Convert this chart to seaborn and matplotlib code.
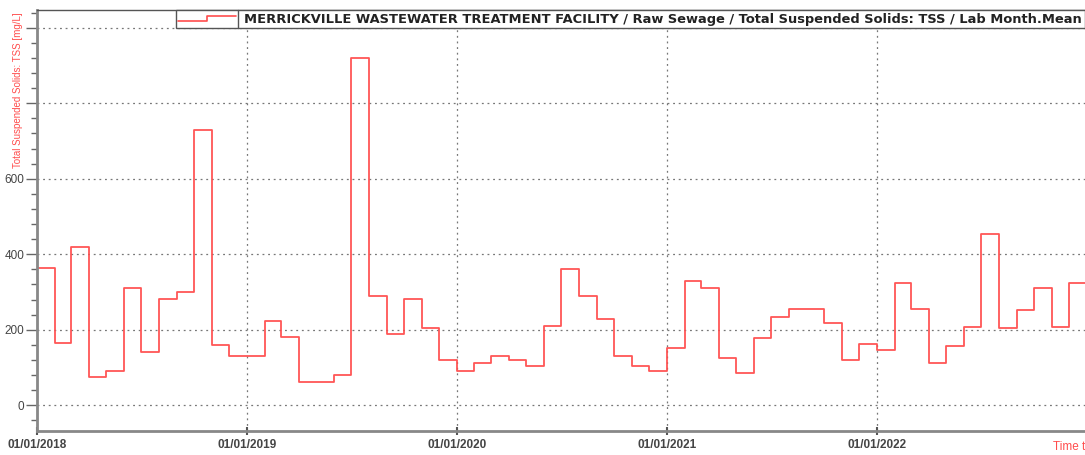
import matplotlib
matplotlib.use("Agg")
import matplotlib.pyplot as plt
import matplotlib.dates as mdates
from matplotlib.ticker import FixedLocator, FuncFormatter, MultipleLocator
from matplotlib.patches import Rectangle
from matplotlib.lines import Line2D
import seaborn as sns
import pandas as pd
import numpy as np

sns.set_theme(style="white")
plt.rcParams['font.family'] = ['Liberation Sans', 'DejaVu Sans']

months = pd.date_range("2018-01-01", "2022-12-01", freq="MS")
tss = [365, 164, 419, 76, 91, 311, 140, 282, 301, 730, 160, 131,
       131, 224, 181, 61, 61, 79, 920, 290, 190, 282, 206, 120,
       91, 111, 131, 121, 105, 210, 360, 290, 229, 131, 105, 91,
       151, 330, 311, 126, 86, 177, 235, 255, 255, 219, 120, 162,
       147, 325, 255, 113, 157, 208, 454, 206, 252, 311, 208, 325]
series_name = ("MERRICKVILLE WASTEWATER TREATMENT FACILITY / Raw Sewage / "
               "Total Suspended Solids: TSS / Lab Month.Mean")
y_label = "Total Suspended Solids: TSS [mg/L]"
year_ticks = pd.to_datetime(["2018-01-01", "2019-01-01", "2020-01-01",
                             "2021-01-01", "2022-01-01"])

# extend last step to end of plot
x_end = pd.Timestamp("2023-01-01")
dates = list(months) + [x_end]
vals = tss + [tss[-1]]
df = pd.DataFrame({"date": dates, "tss": vals})

W, H = 1085, 455
fig = plt.figure(figsize=(W / 100, H / 100), dpi=100)
ax = fig.add_axes([37 / W, (H - 431) / H, (W - 37) / W, 421 / H])

sns.lineplot(data=df, x="date", y="tss", drawstyle="steps-post", ax=ax,
             color="#ff4d4d", linewidth=1.3, alpha=0.95)

ax.set_xlim(pd.Timestamp("2018-01-01"), pd.Timestamp("2022-12-29"))
ax.set_ylim(-68, 1047)

ax.xaxis.set_major_locator(FixedLocator(mdates.date2num(year_ticks)))
ax.xaxis.set_major_formatter(mdates.DateFormatter("%d/%m/%Y"))
ax.yaxis.set_major_locator(MultipleLocator(200))
ax.yaxis.set_minor_locator(MultipleLocator(40))
ax.yaxis.set_major_formatter(FuncFormatter(lambda v, p: f"{int(v)}" if v <= 600 else ""))

ax.grid(True, which="major", linestyle=(0, (1.5, 3)), color="#777777", linewidth=0.9)
ax.tick_params(axis="y", which="major", length=8, width=1, color="#666666",
               labelsize=8.5, labelcolor="#444444", pad=1, left=True)
ax.tick_params(axis="y", which="minor", length=4, width=1, color="#666666", left=True)
ax.tick_params(axis="x", which="major", length=6, width=1.5, color="#555555",
               labelsize=8.5, labelcolor="#444444", pad=3, bottom=True, direction="inout")
for lab in ax.get_xticklabels():
    lab.set_fontweight("bold")

for s in ["left", "bottom"]:
    ax.spines[s].set_color("#888888")
    ax.spines[s].set_linewidth(2)
ax.spines["top"].set_color("#555555")
ax.spines["top"].set_linewidth(1)
ax.spines["right"].set_visible(False)

ax.set_xlabel("")
ax.set_ylabel("")
fig.text(18 / W, 1 - 90 / H, y_label, rotation=90, color="#ff4d4d",
         fontsize=7, ha="center", va="center")
fig.text(1053 / W, 1 - 447 / H, "Time t", color="#ff4d4d", fontsize=8.5,
         ha="left", va="center")

# legend box
lx0, lx1, ly0, ly1 = 176, 1085, 10, 28
fig.patches.append(Rectangle((lx0 / W, 1 - ly1 / H), (lx1 - lx0) / W, (ly1 - ly0) / H,
                             transform=fig.transFigure, facecolor="white",
                             edgecolor="#555555", linewidth=1, zorder=5))
fig.lines.append(Line2D([238 / W, 238 / W], [1 - ly1 / H, 1 - ly0 / H],
                        transform=fig.transFigure, color="#555555", linewidth=1, zorder=6))
fig.lines.append(Line2D([178 / W, 207 / W, 207 / W, 236 / W],
                        [1 - 21 / H, 1 - 21 / H, 1 - 15.7 / H, 1 - 15.7 / H],
                        transform=fig.transFigure, color="#ff4d4d", linewidth=1.2, zorder=6))
fig.text(244 / W, 1 - 19 / H, series_name, fontsize=9.35, fontweight="bold",
         family="DejaVu Sans", color="#222222", ha="left", va="center", zorder=7)

fig.savefig("out.png", dpi=100)
